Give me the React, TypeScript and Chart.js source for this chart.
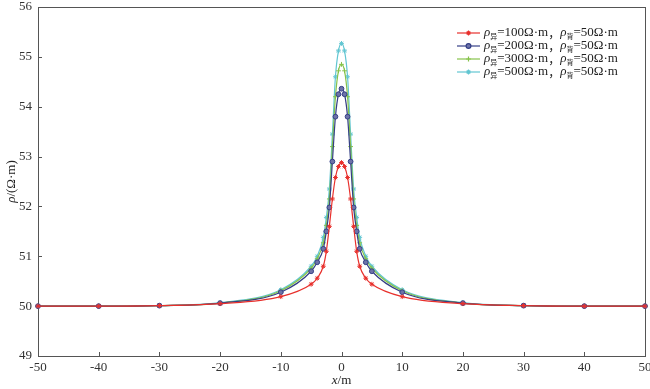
import React, { useEffect, useRef } from 'react';
import { Chart, registerables } from 'chart.js';
import { drawPoint } from 'chart.js/helpers';

Chart.register(...registerables);

const xPositions = [-50, -40, -30, -20, -10, -5, -4, -3, -2.5, -2, -1.5, -1, -0.5, 0, 0.5, 1, 1.5, 2, 2.5, 3, 4, 5, 10, 20, 30, 40, 50];

const rho100 = [50.0, 50.0, 50.01, 50.05, 50.19, 50.44, 50.56, 50.8, 51.1, 51.6, 52.15, 52.58, 52.8, 52.88, 52.8, 52.58, 52.15, 51.6, 51.1, 50.8, 50.56, 50.44, 50.19, 50.05, 50.01, 50.0, 50.0];
const rho200 = [50.0, 50.0, 50.01, 50.06, 50.28, 50.7, 50.88, 51.15, 51.5, 51.98, 52.9, 53.8, 54.25, 54.36, 54.25, 53.8, 52.9, 51.98, 51.5, 51.15, 50.88, 50.7, 50.28, 50.06, 50.01, 50.0, 50.0];
const rho300 = [50.0, 50.0, 50.01, 50.06, 50.31, 50.76, 50.95, 51.27, 51.62, 52.15, 53.2, 54.2, 54.72, 54.85, 54.72, 54.2, 53.2, 52.15, 51.62, 51.27, 50.95, 50.76, 50.31, 50.06, 50.01, 50.0, 50.0];
const rho500 = [50.0, 50.0, 50.01, 50.07, 50.33, 50.8, 51.0, 51.38, 51.78, 52.35, 53.45, 54.6, 55.12, 55.27, 55.12, 54.6, 53.45, 52.35, 51.78, 51.38, 51.0, 50.8, 50.33, 50.07, 50.01, 50.0, 50.0];

const anomalyValues = ['100', '200', '300', '500'];
const backgroundValue = '50';
const xTicks = [-50, -40, -30, -20, -10, 0, 10, 20, 30, 40, 50];
const yTicks = [49, 50, 51, 52, 53, 54, 55, 56];

const seriesColors = ['#e8302c', '#343f86', '#86c34a', '#62c6d2'];
const seriesStyles = ['star', 'circle', 'cross', 'star'];
const seriesValues = [rho100, rho200, rho300, rho500];

const SERIF = '"Liberation Serif", "Times New Roman", Times, serif';
const CJK = '"Noto Sans CJK SC", sans-serif';

type Seg = { t: string; font: string; dy?: number };

function drawSegs(ctx: CanvasRenderingContext2D, segs: Seg[], x: number, y: number, align: 'left' | 'center') {
  let w = 0;
  for (const s of segs) {
    ctx.font = s.font;
    w += ctx.measureText(s.t).width;
  }
  let cx = align === 'center' ? x - w / 2 : x;
  ctx.textAlign = 'left';
  ctx.textBaseline = 'middle';
  for (const s of segs) {
    ctx.font = s.font;
    ctx.fillText(s.t, cx, y + (s.dy || 0));
    cx += ctx.measureText(s.t).width;
  }
}

const decorPlugin = {
  id: 'decor',
  beforeDatasetsDraw(chart: any) {
    const { ctx, chartArea: a } = chart;
    ctx.save();
    ctx.strokeStyle = '#555';
    ctx.lineWidth = 1;
    ctx.strokeRect(Math.round(a.left) + 0.5, Math.round(a.top) + 0.5, Math.round(a.right - a.left), Math.round(a.bottom - a.top));
    const xs = chart.scales.x;
    const ys = chart.scales.y;
    ctx.beginPath();
    for (const v of xTicks) {
      const px = Math.round(xs.getPixelForValue(v)) + 0.5;
      ctx.moveTo(px, a.bottom);
      ctx.lineTo(px, a.bottom - 4);
    }
    for (const v of yTicks) {
      const py = Math.round(ys.getPixelForValue(v)) + 0.5;
      ctx.moveTo(a.left, py);
      ctx.lineTo(a.left + 4, py);
    }
    ctx.stroke();
    // tick labels
    ctx.fillStyle = '#333';
    ctx.font = `13px ${SERIF}`;
    ctx.textBaseline = 'middle';
    ctx.textAlign = 'center';
    for (const v of xTicks) {
      ctx.fillText(String(v), xs.getPixelForValue(v), a.bottom + 12);
    }
    ctx.textAlign = 'right';
    for (const v of yTicks) {
      ctx.fillText(String(v), a.left - 6, ys.getPixelForValue(v));
    }
    ctx.restore();
  },
  afterDraw(chart: any) {
    const { ctx, chartArea: a } = chart;
    ctx.save();
    ctx.fillStyle = '#222';
    drawSegs(ctx, [
      { t: 'x', font: `italic 13px ${SERIF}` },
      { t: '/m', font: `13px ${SERIF}` },
    ], (a.left + a.right) / 2, 381, 'center');
    ctx.save();
    ctx.translate(12, (a.top + a.bottom) / 2);
    ctx.rotate(-Math.PI / 2);
    drawSegs(ctx, [
      { t: 'ρ', font: `italic 13px ${SERIF}` },
      { t: '/(Ω·m)', font: `13px ${SERIF}` },
    ], 0, 0, 'center');
    ctx.restore();
    chart.data.datasets.forEach((ds: any, i: number) => {
      const y = 33 + i * 13;
      ctx.strokeStyle = ds.borderColor;
      ctx.lineWidth = 1.2;
      ctx.beginPath();
      ctx.moveTo(457, y);
      ctx.lineTo(480, y);
      ctx.stroke();
      ctx.fillStyle = ds.pointBackgroundColor;
      drawPoint(ctx, { pointStyle: ds.pointStyle, radius: ds.pointRadius, borderWidth: 1, rotation: 0 } as any, 468.5, y);
      ctx.fillStyle = '#222';
      drawSegs(ctx, [
        { t: 'ρ', font: `italic 13px ${SERIF}` },
        { t: '异', font: `7px ${CJK}`, dy: 3 },
        { t: `=${anomalyValues[i]}Ω·m`, font: `13px ${SERIF}` },
        { t: '，', font: `12px ${CJK}` },
        { t: 'ρ', font: `italic 13px ${SERIF}` },
        { t: '背', font: `7px ${CJK}`, dy: 3 },
        { t: `=${backgroundValue}Ω·m`, font: `13px ${SERIF}` },
      ], 484, y, 'left');
    });
    ctx.restore();
  },
};

export default function App() {
  const ref = useRef<HTMLCanvasElement>(null);
  useEffect(() => {
    document.body.style.margin = '0';
    let chart: Chart | null = null;
    let cancelled = false;
    const build = () => {
      if (cancelled || !ref.current) return;
      const datasets = seriesValues.map((vals, i) => ({
        label: `ρ=${anomalyValues[i]}`,
        data: xPositions.map((x, j) => ({ x, y: vals[j] })),
        borderColor: seriesColors[i],
        backgroundColor: seriesColors[i],
        pointBackgroundColor: i === 1 ? '#6d73a8' : seriesColors[i],
        pointBorderColor: seriesColors[i],
        pointStyle: seriesStyles[i],
        pointRadius: 2.4,
        pointBorderWidth: 1,
        borderWidth: 1.2,
        cubicInterpolationMode: 'monotone' as const,
        clip: 6,
      }));
      chart = new Chart(ref.current, {
        type: 'line',
        data: { datasets },
        options: {
          animation: false,
          responsive: false,
          layout: { padding: { top: 7, right: 3, left: 0, bottom: 0 } },
          plugins: { legend: { display: false }, tooltip: { enabled: false } },
          scales: {
            x: {
              type: 'linear',
              min: -50,
              max: 50,
              afterFit: (s: any) => { s.height = 33; },
              grid: { display: false, drawTicks: false },
              border: { display: false },
              ticks: { display: false },
            },
            y: {
              type: 'linear',
              min: 49,
              max: 56,
              afterFit: (s: any) => { s.width = 38; },
              grid: { display: false, drawTicks: false },
              border: { display: false },
              ticks: { display: false },
            },
          },
        },
        plugins: [decorPlugin],
      });
    };
    const fontsApi: any = (document as any).fonts;
    if (fontsApi && fontsApi.load) {
      Promise.all([
        fontsApi.load('13px "Liberation Serif"'),
        fontsApi.load('italic 13px "Liberation Serif"'),
        fontsApi.load('7px "Noto Sans CJK SC"', '异背，'),
      ]).then(build, build);
    } else {
      build();
    }
    return () => {
      cancelled = true;
      if (chart) chart.destroy();
    };
  }, []);
  return (
    <div style={{ width: 650, height: 389 }}>
      <canvas ref={ref} width={650} height={389} style={{ display: 'block' }} />
    </div>
  );
}
